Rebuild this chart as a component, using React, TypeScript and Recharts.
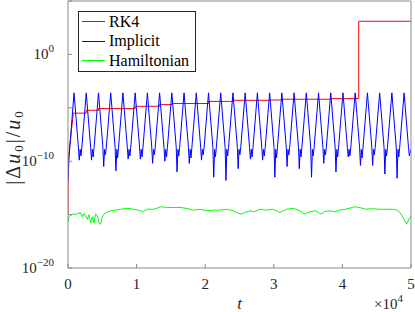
import { LineChart, Line, XAxis, YAxis, Legend } from 'recharts';

const FONT = '"Liberation Serif", "Times New Roman", serif';
const AX = '#8a8a8a';
const TXT = '#262626';

const seriesNames = ['RK4', 'Implicit', 'Hamiltonian'];
const seriesColors = ['#ff0000', '#0000ff', '#00ff00'];

const xTicks = [0, 10000, 20000, 30000, 40000, 50000];
const yTicks = [1e-20, 1e-15, 1e-10, 1e-5, 1, 1e5];
const yLabelled = [-20, -10, 0];

// [t, log10 |du0|/u0]
const rk4: [number, number][] = [
  [0, -15.0], [30, -10.0], [770, -5.5], [2660, -5.5], [2660, -5.23], [4440, -5.23],
  [4440, -5.07], [9790, -5.07], [9790, -4.86], [13350, -4.86], [13350, -4.7],
  [15140, -4.7], [15140, -4.6], [20480, -4.6], [20480, -4.4], [24050, -4.4],
  [24050, -4.3], [29390, -4.3], [29390, -4.27], [31170, -4.27], [31170, -4.2],
  [38300, -4.2], [38300, -4.14], [42380, -4.14], [42380, 3.1], [50000, 3.1],
];

const implicit: [number, number][] = [
  [0, -11.8], [150, -9.6],
  [880, -3.6], [1520, -8.7], [1640, -9.9], [1770, -8.9], [1890, -9.5], [2020, -8.7],
  [2662, -3.6], [3302, -8.7], [3422, -9.9], [3552, -8.9], [3672, -9.6], [3802, -8.7],
  [4444, -3.6], [5084, -8.7], [5204, -10.5], [5334, -8.9], [5454, -9.4], [5584, -8.7],
  [6226, -3.6], [6866, -8.7], [6986, -10.9], [7116, -8.9], [7236, -9.7], [7366, -8.7],
  [8008, -3.6], [8648, -8.7], [8768, -9.8], [8898, -8.9], [9018, -9.5], [9148, -8.7],
  [9790, -3.6], [10430, -8.7], [10550, -9.8], [10680, -8.9], [10800, -9.6], [10930, -8.7],
  [11572, -3.6], [12212, -8.7], [12332, -10.2], [12462, -8.9], [12582, -9.4], [12712, -8.7],
  [13354, -3.6], [13994, -8.7], [14114, -10.0], [14244, -8.9], [14364, -9.6], [14494, -8.7],
  [15136, -3.6], [15776, -8.7], [15896, -11.0], [16026, -8.9], [16146, -9.5], [16276, -8.7],
  [16918, -3.6], [17558, -8.7], [17678, -10.2], [17808, -8.9], [17928, -9.7], [18058, -8.7],
  [18700, -3.6], [19340, -8.7], [19460, -9.9], [19590, -8.9], [19710, -9.4], [19840, -8.7],
  [20482, -3.6], [21122, -8.7], [21242, -11.5], [21372, -8.9], [21492, -9.6], [21622, -8.7],
  [22264, -3.6], [22904, -8.7], [23024, -11.8], [23154, -8.9], [23274, -9.5], [23404, -8.7],
  [24046, -3.6], [24686, -8.7], [24806, -10.7], [24936, -8.9], [25056, -9.4], [25186, -8.7],
  [25828, -3.6], [26468, -8.7], [26588, -9.8], [26718, -8.9], [26838, -9.6], [26968, -8.7],
  [27610, -3.6], [28250, -8.7], [28370, -9.9], [28500, -8.9], [28620, -9.5], [28750, -8.7],
  [29392, -3.6], [30032, -8.7], [30152, -11.5], [30282, -8.9], [30402, -9.7], [30532, -8.7],
  [31174, -3.6], [31814, -8.7], [31934, -10.5], [32064, -8.9], [32184, -9.4], [32314, -8.7],
  [32956, -3.6], [33596, -8.7], [33716, -10.7], [33846, -8.9], [33966, -9.6], [34096, -8.7],
  [34738, -3.6], [35378, -8.7], [35498, -11.5], [35628, -8.9], [35748, -9.5], [35878, -8.7],
  [36520, -3.6], [37160, -8.7], [37280, -10.2], [37410, -8.9], [37530, -9.4], [37660, -8.7],
  [38302, -3.6], [38942, -8.7], [39062, -11.0], [39192, -8.9], [39312, -9.6], [39442, -8.7],
  [40084, -3.6], [40724, -8.7], [40844, -9.6], [40974, -8.9], [41094, -9.5], [41224, -8.7],
  [41866, -3.6], [42506, -8.7], [42626, -10.4], [42756, -8.9], [42876, -9.7], [43006, -8.7],
  [43648, -3.6], [44288, -8.7], [44408, -10.4], [44538, -8.9], [44658, -9.4], [44788, -8.7],
  [45430, -3.6], [46070, -8.7], [46190, -11.2], [46320, -8.9], [46440, -9.5], [46570, -8.7],
  [47212, -3.6], [47852, -8.7], [47972, -11.6], [48102, -8.9], [48222, -9.6], [48352, -8.7],
  [48994, -3.6], [49634, -8.7], [49760, -9.5], [50000, -8.9],
];

const hamiltonian: [number, number][] = [
  [0, -15.67], [146, -15.2], [632, -14.95], [1118, -15.0], [1361, -14.9], [1847, -14.83],
  [2090, -15.2], [2332, -14.9], [2818, -15.45], [3061, -15.0], [3304, -15.8], [3547, -15.2],
  [3790, -15.8], [4033, -14.95], [4276, -15.1], [4519, -15.8], [4762, -15.9], [5004, -15.2],
  [5248, -14.95], [5734, -14.74], [6220, -14.64], [6706, -14.6], [7678, -14.5], [8650, -14.42],
  [9621, -14.5], [10593, -14.64], [10836, -14.74], [11565, -14.5], [12536, -14.5],
  [13508, -14.27], [14480, -14.33], [15452, -14.33], [16327, -14.33], [17298, -14.42],
  [18270, -14.58], [19242, -14.5], [20214, -14.64], [21186, -14.58], [22157, -14.58],
  [23129, -14.5], [24101, -14.64], [24830, -14.89], [25316, -14.95], [25802, -14.8],
  [26531, -14.64], [27017, -14.74], [27502, -14.64], [27988, -14.5], [28960, -14.58],
  [29932, -14.5], [30661, -14.74], [30904, -14.8], [31390, -14.64], [31876, -14.5],
  [32847, -14.42], [33819, -14.64], [34451, -14.95], [35180, -14.74], [36152, -14.64],
  [36880, -14.95], [37366, -14.74], [38095, -14.64], [38824, -14.74], [39553, -14.58],
  [40525, -14.5], [41739, -14.27], [42468, -14.33], [43440, -14.5], [44412, -14.45],
  [45384, -14.5], [46356, -14.5], [47327, -14.5], [48056, -14.58], [48542, -14.95],
  [49028, -15.51], [49368, -15.9], [49660, -15.5], [50000, -15.14],
];

const toData = (pts: [number, number][]) => pts.map(([t, l]) => ({ t, y: Math.pow(10, l) }));

const YTick = (props: any) => {
  const { x, y, payload } = props;
  const e = Math.round(Math.log10(payload.value));
  if (!yLabelled.includes(e)) return <g />;
  return (
    <text x={x} y={y + 5} textAnchor="end" fontFamily={FONT} fontSize={15} fill={TXT}>
      10<tspan dy={-7} fontSize={11}>{e < 0 ? '\u2212' + -e : String(e)}</tspan>
    </text>
  );
};

const XTick = (props: any) => {
  const { x, y, payload } = props;
  return (
    <text x={x} y={y + 11} textAnchor="middle" fontFamily={FONT} fontSize={15} fill={TXT}>
      {payload.value / 10000}
    </text>
  );
};

const XLab = (props: any) => {
  const { x, y, width } = props.viewBox;
  return (
    <g fontFamily={FONT} fill={TXT}>
      <text x={x + width / 2} y={y + 41} textAnchor="middle" fontStyle="italic" fontSize={17}>t</text>
      <text x={x + width - 8} y={y + 41} textAnchor="end" fontSize={15}>
        ×10<tspan dy={-7} fontSize={11}>4</tspan>
      </text>
    </g>
  );
};

const YLab = () => (
  <text transform="translate(20,147) rotate(-90)" textAnchor="middle" fontFamily={FONT} fontSize={20}
    letterSpacing={2} fill={TXT}>
    |Δ<tspan fontStyle="italic">u</tspan>
    <tspan fontSize={13} dy={3}>0</tspan>
    <tspan dy={-3}>|/</tspan>
    <tspan fontStyle="italic">u</tspan>
    <tspan fontSize={13} dy={3}>0</tspan>
  </text>
);

const LegendBox = () => (
  <div style={{ width: 116, height: 59, border: '1px solid #262626', background: '#fff', fontFamily: FONT, fontSize: 16, color: '#000' }}>
    {seriesNames.map((name, i) => (
      <div key={name} style={{ display: 'flex', alignItems: 'center', height: 19.5 }}>
        <span style={{ display: 'inline-block', width: 23, borderTop: `1px solid ${seriesColors[i]}`, marginLeft: 3, marginRight: 4 }} />
        <span style={{ lineHeight: '16px' }}>{name}</span>
      </div>
    ))}
  </div>
);

export default function App() {
  return (
    <div style={{ position: 'absolute', left: 0, top: 0, background: '#fff' }}>
      <LineChart width={415} height={312} margin={{ top: 0, right: 3, bottom: 0, left: 8 }}>
        <XAxis dataKey="t" type="number" domain={[0, 50000]} ticks={xTicks} allowDataOverflow interval={0}
          height={44} tickSize={-4} tickMargin={14} tick={<XTick />}
          axisLine={{ stroke: AX }} tickLine={{ stroke: AX }} label={<XLab />} />
        <XAxis xAxisId="top" orientation="top" dataKey="t" type="number" domain={[0, 50000]} ticks={xTicks}
          allowDataOverflow interval={0} height={1} tickSize={-4} tick={false}
          axisLine={{ stroke: AX }} tickLine={{ stroke: AX }} />
        <YAxis type="number" scale="log" domain={[1e-20, 1e5]} ticks={yTicks} allowDataOverflow interval={0}
          width={60} tickSize={-4} tickMargin={18} tick={<YTick />}
          axisLine={{ stroke: AX }} tickLine={{ stroke: AX }} label={<YLab />} />
        <YAxis yAxisId="r" orientation="right" type="number" scale="log" domain={[1e-20, 1e5]} ticks={yTicks}
          allowDataOverflow interval={0} width={1} tickSize={-4} tick={false}
          axisLine={{ stroke: AX }} tickLine={{ stroke: AX }} />
        <Legend layout="vertical" align="center" verticalAlign="middle" content={<LegendBox />}
          wrapperStyle={{ top: 11, left: 78, width: 'auto', height: 'auto' }} />
        <Line data={toData(rk4)} dataKey="y" name={seriesNames[0]} stroke={seriesColors[0]} strokeWidth={1} dot={false} isAnimationActive={false} />
        <Line data={toData(implicit)} dataKey="y" name={seriesNames[1]} stroke={seriesColors[1]} strokeWidth={1} dot={false} isAnimationActive={false} />
        <Line data={toData(hamiltonian)} dataKey="y" name={seriesNames[2]} stroke={seriesColors[2]} strokeWidth={1} dot={false} isAnimationActive={false} />
      </LineChart>
    </div>
  );
}
